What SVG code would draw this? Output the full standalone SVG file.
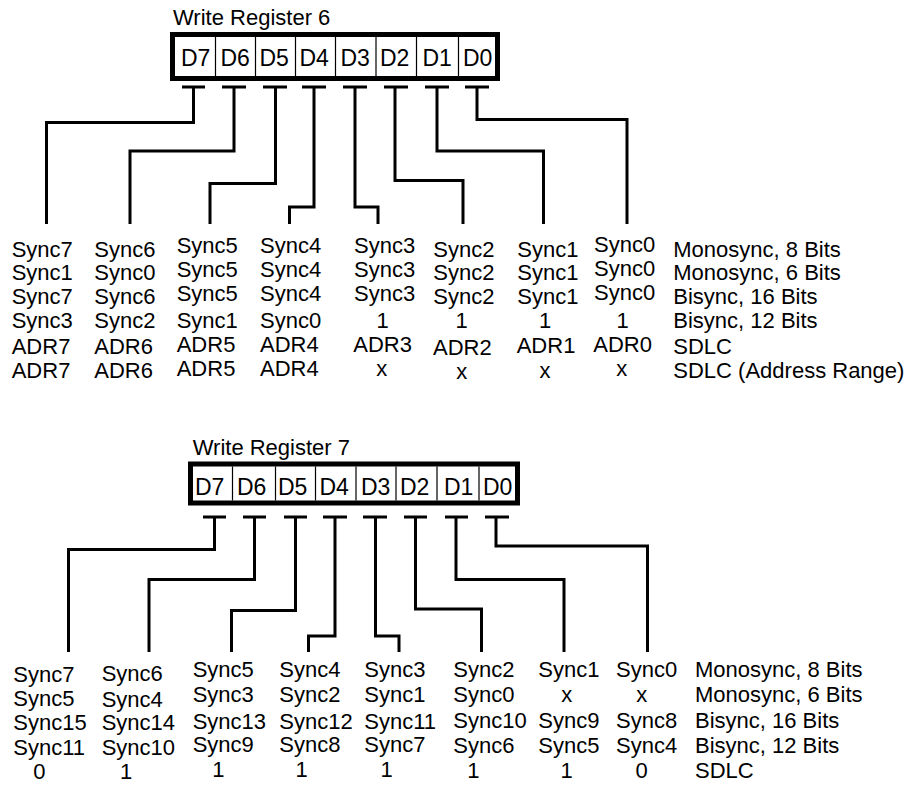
<svg xmlns="http://www.w3.org/2000/svg" width="911" height="785" viewBox="0 0 911 785">
<style>
text{font-family:"Liberation Sans",Arial,Helvetica,sans-serif;font-size:22px;fill:#000}
.c{text-anchor:middle}
.cell{font-size:23px}
.box{fill:#fff;stroke:#000;stroke-width:5}
.div{stroke:#000;stroke-width:1.2}
.wire{fill:none;stroke:#000;stroke-width:3}
</style>
<rect width="911" height="785" fill="#fff"/>

<g id="wr6">
<text x="173" y="25">Write Register 6</text>
<rect class="box" x="172.5" y="34.5" width="325" height="44"/>
<path class="div" d="M215.5,37V76M255.5,37V76M295.5,37V76M335.5,37V76M376,37V76M416.5,37V76M458.5,37V76"/>
<text class="cell" x="181" y="66">D7</text><text class="cell" x="220.5" y="66">D6</text><text class="cell" x="259.5" y="66">D5</text><text class="cell" x="299.5" y="66">D4</text>
<text class="cell" x="340.5" y="66">D3</text><text class="cell" x="380" y="66">D2</text><text class="cell" x="422.5" y="66">D1</text><text class="cell" x="463" y="66">D0</text>
</g>

<g id="connectors6">
<path class="wire" d="M182,87H205M193.5,87V122.5H46.5V224"/>
<path class="wire" d="M222,87H246M234,87V151H130V224"/>
<path class="wire" d="M263,87H287M275.5,87V183.5H210V224"/>
<path class="wire" d="M302,87H326M314,87V207H289.5V224"/>
<path class="wire" d="M343,87H367M355,87V207H378V224"/>
<path class="wire" d="M384,87H408M395,87V180.5H463V224"/>
<path class="wire" d="M425,87H449M437,87V151H543.5V224"/>
<path class="wire" d="M465,87H489M477,87V119.5H627V224"/>
</g>

<g id="wr6-d7"><text x="11.7" y="257">Sync7</text><text x="11.7" y="280">Sync1</text><text x="11.7" y="304">Sync7</text><text x="11.7" y="328">Sync3</text><text x="11.7" y="354">ADR7</text><text x="11.7" y="378">ADR7</text></g>
<g id="wr6-d6"><text x="94.3" y="257">Sync6</text><text x="94.3" y="280">Sync0</text><text x="94.3" y="304">Sync6</text><text x="94.3" y="328">Sync2</text><text x="94.3" y="354">ADR6</text><text x="94.3" y="378">ADR6</text></g>
<g id="wr6-d5"><text x="176.7" y="253">Sync5</text><text x="176.7" y="277">Sync5</text><text x="176.7" y="301">Sync5</text><text x="176.7" y="328">Sync1</text><text x="176.7" y="352">ADR5</text><text x="176.7" y="376">ADR5</text></g>
<g id="wr6-d4"><text x="260" y="253">Sync4</text><text x="260" y="277">Sync4</text><text x="260" y="301">Sync4</text><text x="260" y="328">Sync0</text><text x="260" y="352">ADR4</text><text x="260" y="376">ADR4</text></g>
<g id="wr6-d3"><text x="354" y="253">Sync3</text><text x="354" y="277">Sync3</text><text x="354" y="301">Sync3</text><text class="c" x="382.7" y="328">1</text><text x="353.3" y="352">ADR3</text><text class="c" x="381.7" y="376">x</text></g>
<g id="wr6-d2"><text x="433.3" y="257">Sync2</text><text x="433.3" y="280">Sync2</text><text x="433.3" y="304">Sync2</text><text class="c" x="461.7" y="328">1</text><text x="433" y="355">ADR2</text><text class="c" x="461.7" y="379">x</text></g>
<g id="wr6-d1"><text x="517.3" y="257">Sync1</text><text x="517.3" y="280">Sync1</text><text x="517.3" y="304">Sync1</text><text class="c" x="545" y="328">1</text><text x="516.7" y="353">ADR1</text><text class="c" x="545" y="378">x</text></g>
<g id="wr6-d0"><text x="594" y="252">Sync0</text><text x="594" y="276">Sync0</text><text x="594" y="300">Sync0</text><text class="c" x="622.7" y="328">1</text><text x="593.3" y="352">ADR0</text><text class="c" x="621.7" y="376">x</text></g>
<g id="wr6-modes"><text x="673.3" y="257">Monosync, 8 Bits</text><text x="673.3" y="280">Monosync, 6 Bits</text><text x="673.3" y="304">Bisync, 16 Bits</text><text x="673.3" y="327.5">Bisync, 12 Bits</text><text x="673.3" y="354">SDLC</text><text x="673.3" y="378">SDLC (Address Range)</text></g>

<g id="wr7">
<text x="192.7" y="455">Write Register 7</text>
<rect class="box" x="190.5" y="464" width="327" height="39"/>
<path class="div" d="M232.5,466.5V500.5M275.5,466.5V500.5M315.5,466.5V500.5M356,466.5V500.5M396,466.5V500.5M437,466.5V500.5M479,466.5V500.5"/>
<text class="cell" x="195" y="495">D7</text><text class="cell" x="237" y="495">D6</text><text class="cell" x="278" y="495">D5</text><text class="cell" x="319.5" y="495">D4</text>
<text class="cell" x="361" y="495">D3</text><text class="cell" x="400" y="495">D2</text><text class="cell" x="444" y="495">D1</text><text class="cell" x="483" y="495">D0</text>
</g>

<g id="connectors7">
<path class="wire" d="M203,517H226M214.5,517V549.5H68.5V652"/>
<path class="wire" d="M243,517H266M254.5,517V579.5H149V652"/>
<path class="wire" d="M284,517H307M295.5,517V610.5H231.5V652"/>
<path class="wire" d="M323,517H347M335,517V636H308.5V652"/>
<path class="wire" d="M363,517H387M375.5,517V636H399V652"/>
<path class="wire" d="M404,517H427M415.5,517V609H481.5V652"/>
<path class="wire" d="M445,517H468M456,517V579.5H564V652"/>
<path class="wire" d="M485,517H509M496,517V546H647.5V652"/>
</g>

<g id="wr7-d7"><text x="13.3" y="682">Sync7</text><text x="13.3" y="706">Sync5</text><text x="13.3" y="730">Sync15</text><text x="13.3" y="755">Sync11</text><text class="c" x="39.3" y="779">0</text></g>
<g id="wr7-d6"><text x="101.7" y="681">Sync6</text><text x="101.7" y="707">Sync4</text><text x="101.7" y="730">Sync14</text><text x="101.7" y="755">Sync10</text><text class="c" x="126" y="779">1</text></g>
<g id="wr7-d5"><text x="192.7" y="677">Sync5</text><text x="192.7" y="702">Sync3</text><text x="192.7" y="729">Sync13</text><text x="192.7" y="752">Sync9</text><text class="c" x="218.3" y="777">1</text></g>
<g id="wr7-d4"><text x="279.3" y="677">Sync4</text><text x="279.3" y="702">Sync2</text><text x="279.3" y="729">Sync12</text><text x="279.3" y="752">Sync8</text><text class="c" x="301.7" y="777">1</text></g>
<g id="wr7-d3"><text x="364.3" y="677">Sync3</text><text x="364.3" y="702">Sync1</text><text x="364.3" y="729">Sync11</text><text x="364.3" y="752">Sync7</text><text class="c" x="386.7" y="777">1</text></g>
<g id="wr7-d2"><text x="453.3" y="677">Sync2</text><text x="453.3" y="702">Sync0</text><text x="453.3" y="728">Sync10</text><text x="453.3" y="753">Sync6</text><text class="c" x="473.3" y="778">1</text></g>
<g id="wr7-d1"><text x="538.3" y="677">Sync1</text><text class="c" x="566.7" y="702">x</text><text x="538.3" y="728">Sync9</text><text x="538.3" y="753">Sync5</text><text class="c" x="566.7" y="778">1</text></g>
<g id="wr7-d0"><text x="616" y="677">Sync0</text><text class="c" x="641.7" y="702">x</text><text x="616" y="728">Sync8</text><text x="616" y="753">Sync4</text><text class="c" x="641.7" y="778">0</text></g>
<g id="wr7-modes"><text x="695" y="677">Monosync, 8 Bits</text><text x="695" y="702">Monosync, 6 Bits</text><text x="695" y="728">Bisync, 16 Bits</text><text x="695" y="753">Bisync, 12 Bits</text><text x="695" y="778">SDLC</text></g>
</svg>
